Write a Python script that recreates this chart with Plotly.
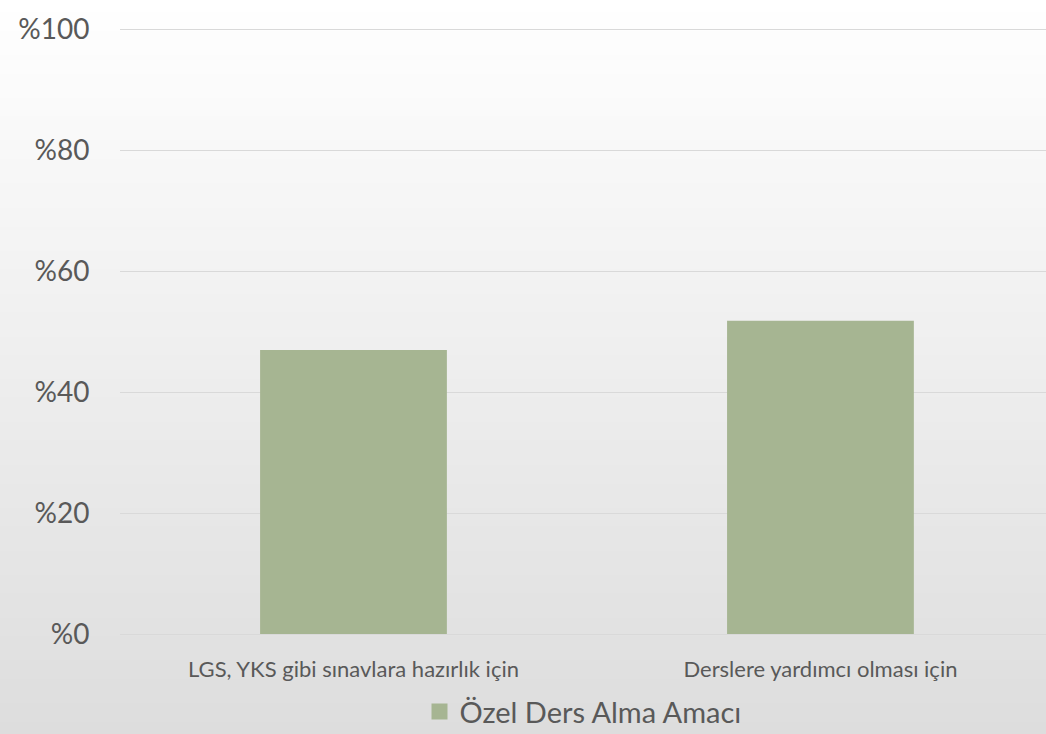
import plotly.graph_objects as go

categories = ["LGS, YKS gibi sınavlara hazırlık için", "Derslere yardımcı olması için"]
values = [47.0, 51.8]
series_name = "Özel Ders Alma Amacı"
y_ticks = [0, 20, 40, 60, 80, 100]
y_tick_labels = ["%0", "%20", "%40", "%60", "%80", "%100"]
bar_color = "#a6b592"

W, H = 1046, 734
fig = go.Figure()
fig.add_trace(go.Bar(
    x=[0, 1], y=values, name=series_name,
    marker=dict(color=bar_color, line=dict(width=0)),
    width=0.4, showlegend=False,
))
# legend entry with a larger square swatch
fig.add_trace(go.Scatter(
    x=[None], y=[None], mode="markers", name=series_name,
    marker=dict(symbol="square", size=18, color=bar_color), showlegend=True,
))

# gradient background strips
shapes = []
n = 120
top, bot = 255, 221
ph = 606
for i in range(n):
    t = (i + 0.5) / n
    c = round(top + (bot - top) * t)
    shapes.append(dict(type="rect", xref="paper", yref="paper",
                       x0=-0.2, x1=1.1,
                       y0=1 + 28/ph - i * (734/ph) / n,
                       y1=1 + 28/ph - (i + 1) * (734/ph) / n - 0.002,
                       fillcolor=f"rgb({c},{c},{c})", line=dict(width=0), layer="below"))

fig.update_layout(
    width=W, height=H,
    margin=dict(l=120, r=0, t=28, b=100, autoexpand=False),
    paper_bgcolor="rgba(0,0,0,0)",
    plot_bgcolor="rgba(0,0,0,0)",
    shapes=shapes,
    font=dict(family="Lato, Carlito, sans-serif", color="#595959"),
    xaxis=dict(range=[-0.5, 1.483], tickvals=[0, 1], ticktext=categories,
               tickfont=dict(size=22, color="#595959"), showgrid=False,
               showline=False, zeroline=False, ticks="outside", ticklen=16,
               tickcolor="rgba(0,0,0,0)"),
    yaxis=dict(range=[0, 100.25], tickvals=y_ticks, ticktext=y_tick_labels,
               tickfont=dict(size=28, color="#595959"), showgrid=True,
               gridcolor="#d9d9d9", gridwidth=1, zeroline=True,
               zerolinecolor="#d9d9d9", zerolinewidth=1,
               ticks="outside", ticklen=24, tickcolor="rgba(0,0,0,0)"),
    legend=dict(orientation="h", x=0.5, xanchor="center", y=-0.128, yanchor="middle",
                font=dict(size=29, color="#595959"), bgcolor="rgba(0,0,0,0)",
                itemsizing="trace"),
)
fig.write_html("out.html", config={"displayModeBar": False},
               post_script="document.body.style.margin='0';document.body.style.overflow='hidden';")
